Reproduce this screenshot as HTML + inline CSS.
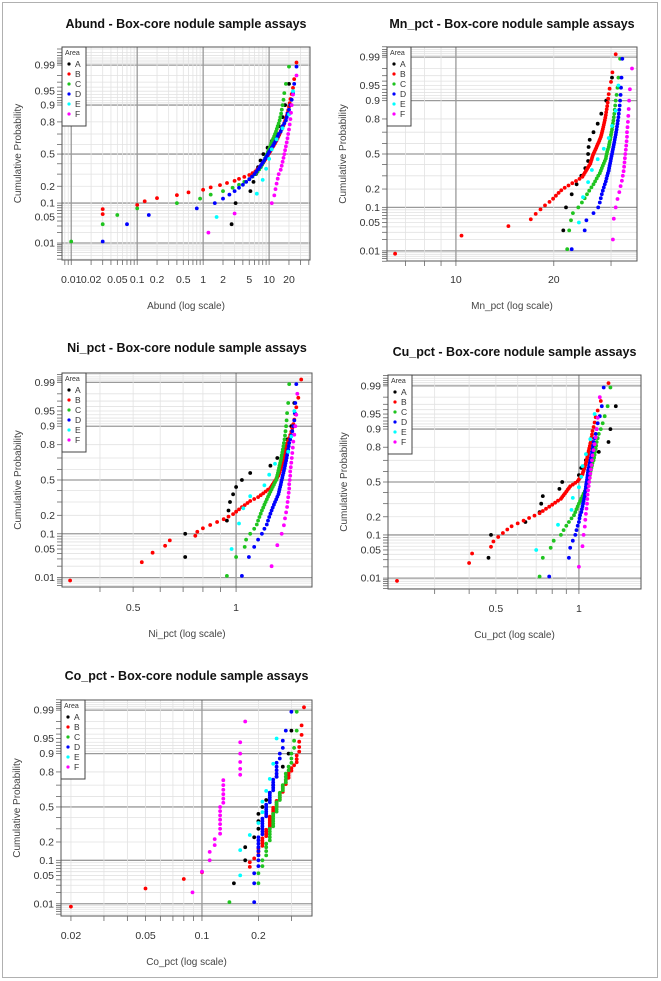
<!DOCTYPE html>
<html><head><meta charset="utf-8">
<style>
html,body{margin:0;padding:0;background:#fff;}
svg{display:block;font-family:"Liberation Sans",Arial,sans-serif;}
</style></head>
<body>
<svg id="fig" width="661" height="981" viewBox="0 0 661 981" xmlns="http://www.w3.org/2000/svg">
<rect x="2.5" y="2.5" width="655" height="975" fill="#fff" stroke="#b0b0b0" stroke-width="1"/>
</svg>
<script>
// ---- data (sample values, sorted; plotted at rank-based cumulative probability) ----
const areaNames = ["A","B","C","D","E","F"];
const abundA = [2.7,3.1,5.2,5.8,6.3,6.8,7.4,8.2,9.5,11,12.5,14,16,17.5,20];
const abundB = [0,0,0,0.03,0.03,0.1,0.13,0.2,0.4,0.6,1.0,1.3,1.8,2.3,3,3.5,4.2,5,5.6,6.2,6.6,7,7.4,7.8,8.1,8.4,8.7,9,9.3,9.6,10,10.3,10.7,11,11.4,11.8,12.2,12.6,13,13.4,13.8,14.2,14.6,15,15.5,16,16.5,17,17.5,18,18.5,19,19.5,20,20.5,21,22,23,24,26];
const abundC = [0.01,0.03,0.05,0.1,0.4,0.9,1.3,2,2.8,3.5,4.2,5,5.6,6.2,6.7,7.1,7.5,7.8,8.1,8.4,8.7,9,9.3,9.6,9.9,10.2,10.5,10.8,11.1,11.5,11.9,12.3,12.7,13.1,13.5,14,14.4,14.8,15.2,15.6,16,16.5,17,18,20];
const abundD = [0.03,0.07,0.15,0.8,1.5,2,2.5,3,3.5,4,4.5,5,5.5,6,6.4,6.8,7.2,7.6,8,8.4,8.8,9.2,9.6,10,10.5,11,11.5,12,12.5,13,13.5,14,15,15.5,16,17,18,18.5,19,20,21,22,23,24,26];
const abundE = [1.6,6.5,8,9,10,11,13,16,20,23];
const abundF = [1.2,3,11,12,12.5,13,13.5,14,15,15.5,16,16.5,17,17.5,18,18.5,19,19.5,20,20.5,21,21.5,22,23,26];

const mnA = [21.4,21.8,22.7,23.5,24.3,25,25.5,25.5,25.6,25.8,26.5,27.3,28,29,30.2];
const mnB = [6.5,10.4,14.5,17,17.6,18.2,18.8,19.4,19.9,20.3,20.7,21.1,21.6,22.2,22.8,23.4,24.0,24.5,24.7,24.9,25.1,25.3,25.5,25.7,25.9,26,26.1,26.2,26.3,26.4,26.55,26.7,26.85,27,27.15,27.3,27.45,27.6,27.75,27.9,28,28.1,28.2,28.3,28.4,28.5,28.6,28.7,28.8,28.9,29,29.1,29.2,29.3,29.4,29.5,29.7,30,30.3,31];
const mnC = [22,22.3,22.6,22.9,23.8,24.4,24.9,25.3,25.7,26.1,26.5,26.8,27.1,27.4,27.7,27.9,28.1,28.3,28.5,28.7,28.9,29,29.1,29.2,29.35,29.5,29.6,29.7,29.8,29.9,30,30.1,30.2,30.3,30.4,30.5,30.6,30.7,30.8,30.9,31,31.2,31.4,31.6,32];
const mnD = [22.7,24.9,25.2,26.5,27.4,27.7,27.9,28.1,28.3,28.5,28.7,28.9,29.05,29.2,29.35,29.5,29.6,29.7,29.8,29.9,30,30.1,30.2,30.3,30.4,30.5,30.6,30.7,30.8,30.9,31,31.1,31.2,31.3,31.4,31.5,31.6,31.7,31.8,31.9,32,32.1,32.2,32.3,32.5];
const mnE = [23.9,24.6,25.5,26.2,27.3,28.5,29.5,30.2,31,31.6];
const mnF = [30.4,30.6,31,31.4,31.8,32.1,32.4,32.6,32.8,32.9,33,33.1,33.2,33.3,33.4,33.5,33.6,33.6,33.7,33.8,33.9,34,34.1,34.3,34.8];

const niA = [0.71,0.71,0.94,0.95,0.96,0.98,1.0,1.04,1.1,1.26,1.32,1.38,1.41,1.45,1.48];
const niB = [0.327,0.53,0.57,0.62,0.64,0.76,0.77,0.8,0.84,0.88,0.92,0.95,0.98,1.0,1.02,1.04,1.06,1.08,1.1,1.13,1.16,1.18,1.2,1.22,1.24,1.26,1.27,1.28,1.29,1.3,1.31,1.32,1.33,1.335,1.34,1.345,1.35,1.355,1.36,1.365,1.37,1.375,1.38,1.385,1.39,1.395,1.4,1.405,1.41,1.42,1.43,1.44,1.45,1.46,1.47,1.48,1.49,1.5,1.52,1.55];
const niC = [0.94,1.0,1.06,1.07,1.1,1.13,1.15,1.16,1.17,1.18,1.19,1.2,1.21,1.22,1.23,1.24,1.25,1.26,1.27,1.28,1.29,1.3,1.31,1.315,1.32,1.325,1.33,1.335,1.34,1.345,1.35,1.355,1.36,1.365,1.37,1.375,1.38,1.385,1.39,1.395,1.4,1.405,1.41,1.42,1.43];
const niD = [1.04,1.09,1.13,1.16,1.19,1.21,1.23,1.24,1.25,1.26,1.27,1.28,1.29,1.3,1.31,1.32,1.33,1.335,1.34,1.345,1.35,1.355,1.36,1.365,1.37,1.375,1.38,1.385,1.39,1.395,1.4,1.405,1.41,1.415,1.42,1.425,1.43,1.44,1.45,1.46,1.47,1.48,1.485,1.49,1.5];
const niE = [0.97,1.02,1.05,1.1,1.21,1.25,1.3,1.42,1.45,1.48];
const niF = [1.27,1.32,1.36,1.38,1.39,1.4,1.41,1.415,1.42,1.425,1.43,1.43,1.435,1.44,1.44,1.445,1.45,1.455,1.46,1.465,1.47,1.48,1.49,1.5,1.51];

const cuA = [0.47,0.48,0.64,0.72,0.73,0.74,0.85,0.87,1.0,1.02,1.06,1.18,1.28,1.3,1.36];
const cuB = [0.219,0.4,0.41,0.48,0.49,0.51,0.53,0.55,0.57,0.6,0.63,0.66,0.69,0.72,0.74,0.76,0.78,0.8,0.82,0.84,0.86,0.87,0.88,0.89,0.9,0.91,0.92,0.93,0.95,0.97,0.99,1.0,1.01,1.02,1.03,1.035,1.04,1.045,1.05,1.055,1.06,1.065,1.07,1.072,1.075,1.08,1.085,1.09,1.095,1.1,1.105,1.11,1.115,1.12,1.13,1.14,1.15,1.17,1.2,1.28];
const cuC = [0.72,0.74,0.79,0.81,0.86,0.88,0.9,0.92,0.94,0.96,0.97,0.98,0.99,1.0,1.01,1.02,1.03,1.04,1.05,1.06,1.07,1.075,1.08,1.085,1.09,1.095,1.1,1.105,1.11,1.115,1.12,1.13,1.135,1.14,1.145,1.15,1.155,1.16,1.17,1.18,1.2,1.22,1.24,1.27,1.3];
const cuD = [0.78,0.92,0.93,0.95,0.97,0.98,0.99,1.0,1.005,1.01,1.02,1.025,1.03,1.035,1.04,1.045,1.05,1.052,1.055,1.058,1.06,1.063,1.066,1.07,1.072,1.075,1.078,1.08,1.085,1.09,1.095,1.1,1.105,1.11,1.115,1.12,1.125,1.13,1.14,1.15,1.16,1.17,1.19,1.21,1.23];
const cuE = [0.7,0.84,0.94,0.95,1.0,1.02,1.03,1.06,1.1,1.14];
const cuF = [1.0,1.03,1.04,1.05,1.055,1.06,1.065,1.07,1.072,1.075,1.08,1.085,1.09,1.095,1.1,1.105,1.11,1.115,1.12,1.13,1.14,1.15,1.16,1.17,1.19];

const coA = [0.148,0.17,0.17,0.19,0.2,0.2,0.2,0.21,0.22,0.23,0.24,0.25,0.27,0.29,0.3];
const coB = [0.02,0.05,0.08,0.1,0.18,0.18,0.19,0.2,0.2,0.2,0.21,0.21,0.21,0.21,0.22,0.22,0.22,0.22,0.23,0.23,0.23,0.23,0.23,0.23,0.23,0.24,0.24,0.24,0.24,0.24,0.25,0.25,0.25,0.25,0.26,0.26,0.26,0.26,0.27,0.27,0.27,0.27,0.28,0.28,0.28,0.29,0.29,0.29,0.3,0.3,0.31,0.32,0.32,0.32,0.33,0.33,0.33,0.34,0.34,0.35];
const coC = [0.14,0.2,0.2,0.21,0.21,0.22,0.22,0.22,0.22,0.23,0.23,0.23,0.23,0.23,0.24,0.24,0.24,0.24,0.24,0.24,0.25,0.25,0.25,0.25,0.25,0.26,0.26,0.26,0.26,0.27,0.27,0.27,0.28,0.28,0.28,0.28,0.29,0.29,0.3,0.3,0.3,0.31,0.31,0.32,0.32];
const coD = [0.19,0.19,0.19,0.2,0.2,0.2,0.2,0.2,0.2,0.2,0.2,0.21,0.21,0.21,0.21,0.21,0.21,0.21,0.22,0.22,0.22,0.22,0.22,0.22,0.23,0.23,0.23,0.23,0.23,0.24,0.24,0.24,0.24,0.24,0.25,0.25,0.25,0.25,0.25,0.26,0.26,0.27,0.27,0.28,0.3];
const coE = [0.16,0.16,0.18,0.2,0.21,0.21,0.22,0.23,0.24,0.25];
const coF = [0.089,0.1,0.11,0.11,0.117,0.117,0.125,0.125,0.125,0.125,0.125,0.125,0.125,0.13,0.13,0.13,0.13,0.13,0.13,0.16,0.16,0.16,0.16,0.16,0.17];

const abundTickLabels = ["0.01","0.02","0.05","0.1","0.2","0.5","1","2","5","10","20"];
const mnTickLabels = ["10","20"];
const niTickLabels = ["0.5","1"];
const cuTickLabels = ["0.5","1"];
const coTickLabels = ["0.02","0.05","0.1","0.2"];
const probLabels = ["0.01","0.05","0.1","0.2","0.5","0.8","0.9","0.95","0.99"];
const probMajor = [0.01,0.1,0.5,0.9,0.99];

// ---- layout ----
const colors = {A:"#000000",B:"#ff0000",C:"#1fc41f",D:"#0000ff",E:"#00ffff",F:"#ff00ff"};
const NS = "http://www.w3.org/2000/svg";
const svg = document.getElementById("fig");

function qnorm(p){
  const a=[-39.69683028665376,220.9460984245205,-275.9285104469687,138.3577518672690,-30.66479806614716,2.506628277459239];
  const b=[-54.47609879822406,161.5858368580409,-155.6989798598866,66.80131188771972,-13.28068155288572];
  const c=[-0.007784894002430293,-0.3223964580411365,-2.400758277161838,-2.549732539343734,4.374664141464968,2.938163982698783];
  const d=[0.007784695709041462,0.3224671290700398,2.445134137142996,3.754408661907416];
  const pl=0.02425;let q,r;
  if(p<pl){q=Math.sqrt(-2*Math.log(p));return (((((c[0]*q+c[1])*q+c[2])*q+c[3])*q+c[4])*q+c[5])/((((d[0]*q+d[1])*q+d[2])*q+d[3])*q+1);}
  if(p>1-pl){q=Math.sqrt(-2*Math.log(1-p));return -(((((c[0]*q+c[1])*q+c[2])*q+c[3])*q+c[4])*q+c[5])/((((d[0]*q+d[1])*q+d[2])*q+d[3])*q+1);}
  q=p-0.5;r=q*q;return (((((a[0]*r+a[1])*r+a[2])*r+a[3])*r+a[4])*r+a[5])*q/(((((b[0]*r+b[1])*r+b[2])*r+b[3])*r+b[4])*r+1);
}
function el(tag, attrs, parent){
  const e=document.createElementNS(NS,tag);
  for(const k in attrs) e.setAttribute(k,attrs[k]);
  (parent||svg).appendChild(e);return e;
}

const panels = [
 {key:"abund",title:"Abund - Box-core nodule sample assays",xlab:"Abund (log scale)",L:62,R:310,T:47,B:260,lx0:-2.14,lx1:1.62,z0:-2.77,z1:2.8,titleY:28,tickY:283,xlabY:309,labels:abundTickLabels,
  series:[abundA,abundB,abundC,abundD,abundE,abundF]},
 {key:"mn",title:"Mn_pct - Box-core nodule sample assays",xlab:"Mn_pct (log scale)",L:387,R:637,T:47,B:261,lx0:0.788,lx1:1.557,z0:-2.57,z1:2.57,titleY:28,tickY:283,xlabY:309,labels:mnTickLabels,
  series:[mnA,mnB,mnC,mnD,mnE,mnF]},
 {key:"ni",title:"Ni_pct - Box-core nodule sample assays",xlab:"Ni_pct (log scale)",L:62,R:312,T:373,B:587,lx0:-0.509,lx1:0.222,z0:-2.55,z1:2.55,titleY:352,tickY:611,xlabY:637,labels:niTickLabels,
  series:[niA,niB,niC,niD,niE,niF]},
 {key:"cu",title:"Cu_pct - Box-core nodule sample assays",xlab:"Cu_pct (log scale)",L:388,R:641,T:375,B:589,lx0:-0.692,lx1:0.225,z0:-2.59,z1:2.59,titleY:356,tickY:612,xlabY:638,labels:cuTickLabels,
  series:[cuA,cuB,cuC,cuD,cuE,cuF]},
 {key:"co",title:"Co_pct - Box-core nodule sample assays",xlab:"Co_pct (log scale)",L:61,R:312,T:700,B:916,lx0:-1.752,lx1:-0.413,z0:-2.62,z1:2.57,titleY:680,tickY:939,xlabY:965,labels:coTickLabels,
  series:[coA,coB,coC,coD,coE,coF]}
];

function gridProbs(){
  const out=[];
  for(let i=1;i<=9;i++) out.push(i/1000);
  for(let i=1;i<=9;i++) out.push(i/100);
  for(let i=1;i<=9;i++) out.push(i/10);
  for(let i=91;i<=99;i++) out.push(i/100);
  for(let i=991;i<=999;i++) out.push(i/1000);
  return out;
}

panels.forEach((P,pi)=>{
  const g=el("g",{});
  
  
  const xs=v=>P.L+(Math.log10(v)-P.lx0)/(P.lx1-P.lx0)*(P.R-P.L);
  const ys=p=>P.B-(qnorm(p)-P.z0)/(P.z1-P.z0)*(P.B-P.T);
  const clipId="clip"+pi;
  const cp=el("clipPath",{id:clipId},g);
  el("rect",{x:P.L,y:P.T,width:P.R-P.L,height:P.B-P.T},cp);

  const t=el("text",{x:(P.L+P.R)/2,y:P.titleY,"text-anchor":"middle","font-size":"12.5","font-weight":"bold",fill:"#111"},g);
  t.textContent=P.title;
  
  

  const gg=el("g",{"clip-path":"url(#"+clipId+")"},g);
  
  
  gridProbs().forEach(p=>{
    const y=ys(p);
    if(y<P.T-1||y>P.B+1) return;
    const maj=probMajor.some(m=>Math.abs(m-p)<1e-9);
    el("line",{x1:P.L,x2:P.R,y1:y,y2:y,stroke:maj?"#9a9a9a":"#e2e2e2","stroke-width":maj?1.3:0.8},gg);
  });
  const xticks=[];
  for(let d=Math.floor(P.lx0);d<=Math.ceil(P.lx1);d++){
    for(let m=1;m<=9;m++){
      const v=m*Math.pow(10,d);const lv=Math.log10(v);
      if(lv<P.lx0||lv>P.lx1) continue;
      xticks.push(v);
      const x=xs(v);
      el("line",{x1:x,x2:x,y1:P.T,y2:P.B,stroke:m===1?"#9a9a9a":"#e2e2e2","stroke-width":m===1?1.3:0.8},gg);
    }
  }
  P.series.forEach((vals,si)=>{
    const nm=areaNames[si];
    const sg=el("g",{"clip-path":"url(#"+clipId+")",fill:colors[nm]},g);
    
    
    const n=vals.length;
    vals.forEach((v,i)=>{
      if(!(v>0)) return;
      const p=(i+0.5)/n;
      const c=el("circle",{cx:xs(v).toFixed(1),cy:ys(p).toFixed(1),r:1.9},sg);
      
      
    });
  });
  const box=el("rect",{x:P.L,y:P.T,width:P.R-P.L,height:P.B-P.T,fill:"none",stroke:"#555","stroke-width":1},g);
  
  

  const ya=el("g",{},g);
  
  
  gridProbs().forEach(p=>{
    const y=ys(p);
    if(y<P.T-1||y>P.B+1) return;
    el("line",{x1:P.L-5,x2:P.L,y1:y,y2:y,stroke:"#666","stroke-width":0.8},ya);
  });
  probLabels.forEach(s=>{
    const y=ys(parseFloat(s));
    const tx=el("text",{x:P.L-7,y:y+3.5,"text-anchor":"end","font-size":"10.5",fill:"#333"},ya);
    tx.textContent=s;
    
    
  });
  const yt=el("text",{x:0,y:0,"text-anchor":"middle","font-size":"10",fill:"#444",transform:"translate("+(P.L-41)+","+((P.T+P.B)/2)+") rotate(-90)"},g);
  yt.textContent="Cumulative Probability";
  
  

  const xa=el("g",{},g);
  
  
  xticks.forEach(v=>{
    const x=xs(v);
    el("line",{x1:x,x2:x,y1:P.B,y2:P.B+5,stroke:"#666","stroke-width":0.8},xa);
  });
  P.labels.forEach(s=>{
    const tx=el("text",{x:xs(parseFloat(s)),y:P.tickY,"text-anchor":"middle","font-size":"10.5",fill:"#333"},xa);
    tx.textContent=s;
    
    
  });
  const xt=el("text",{x:(P.L+P.R)/2,y:P.xlabY,"text-anchor":"middle","font-size":"10",fill:"#444"},g);
  xt.textContent=P.xlab;
  
  

  const lg=el("g",{},g);
  
  
  el("rect",{x:P.L,y:P.T,width:24,height:79,fill:"#fff",stroke:"#444","stroke-width":1},lg);
  const lt=el("text",{x:P.L+3,y:P.T+8,"font-size":"7",fill:"#333"},lg);
  lt.textContent="Area";
  
  
  areaNames.forEach((nm,i)=>{
    const yy=P.T+20+i*10;
    const e=el("g",{},lg);
    
    
    el("circle",{cx:P.L+7,cy:yy-3,r:1.6,fill:colors[nm]},e);
    const lt2=el("text",{x:P.L+13,y:yy,"font-size":"8.5",fill:"#333"},e);
    lt2.textContent=nm;
  });
});
</script>
</body></html>
